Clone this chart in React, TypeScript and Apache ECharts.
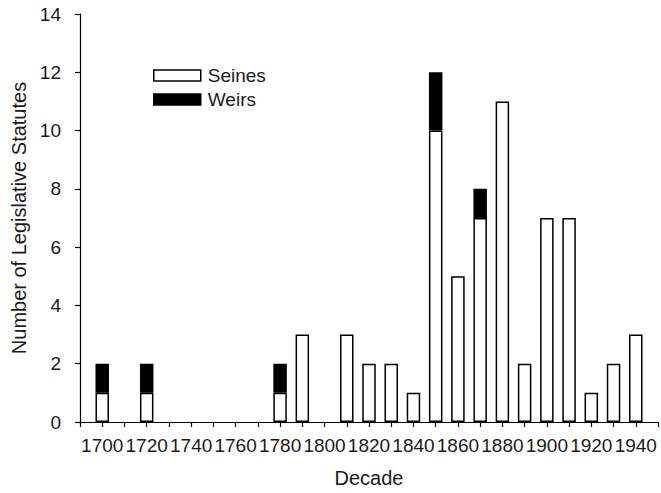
import React, { useEffect, useRef } from "react";
import * as echarts from "echarts";

// Decade axis (ticks every decade; 1690 and 1950 are the unlabeled ends)
const axisDecades = [1690, 1700, 1710, 1720, 1730, 1740, 1750, 1760, 1770, 1780, 1790, 1800, 1810, 1820, 1830, 1840, 1850, 1860, 1870, 1880, 1890, 1900, 1910, 1920, 1930, 1940, 1950];
const decades = [1700, 1710, 1720, 1730, 1740, 1750, 1760, 1770, 1780, 1790, 1800, 1810, 1820, 1830, 1840, 1850, 1860, 1870, 1880, 1890, 1900, 1910, 1920, 1930, 1940];
const seines = [1, 0, 1, 0, 0, 0, 0, 0, 1, 3, 0, 3, 2, 2, 1, 10, 5, 7, 11, 2, 7, 7, 1, 2, 3];
const weirs = [1, 0, 1, 0, 0, 0, 0, 0, 1, 0, 0, 0, 0, 0, 0, 2, 0, 1, 0, 0, 0, 0, 0, 0, 0];
const labeledDecades = [1700, 1720, 1740, 1760, 1780, 1800, 1820, 1840, 1860, 1880, 1900, 1920, 1940];

const yMax = 14;

const FONT = "'Liberation Sans', Arial, Helvetica, sans-serif";
const TXT = "#1a1a1a";

export default function App() {
  const ref = useRef<HTMLDivElement>(null);
  useEffect(() => {
    if (!ref.current) return;
    const chart = echarts.init(ref.current, null, { renderer: "svg" });
    const toSeries = (arr: number[]) =>
      axisDecades.map((d) => {
        const i = decades.indexOf(d);
        if (i < 0) return "-";
        return arr[i] === 0 ? "-" : arr[i];
      });
    chart.setOption({
      animation: false,
      backgroundColor: "#fff",
      textStyle: { fontFamily: FONT },
      grid: { left: 80, right: 0, top: 14, bottom: 70, containLabel: false },
      legend: {
        orient: "vertical",
        left: 153,
        top: 66,
        padding: 0,
        itemWidth: 47,
        itemHeight: 11,
        itemGap: 5,
        icon: "rect",
        textStyle: { fontFamily: FONT, fontSize: 19, color: TXT, padding: [0, 0, 0, 2] },
        data: [
          { name: "Seines", itemStyle: { color: "#fff", borderColor: "#000", borderWidth: 1.5 } },
          { name: "Weirs", itemStyle: { color: "#000", borderColor: "#000", borderWidth: 1.5 } },
        ],
      },
      xAxis: {
        type: "category",
        boundaryGap: false,
        data: axisDecades.map(String),
        name: "Decade",
        nameLocation: "middle",
        nameGap: 46,
        nameTextStyle: { fontFamily: FONT, fontSize: 20, color: TXT },
        axisLine: { show: true, lineStyle: { color: "#000", width: 1.2 } },
        axisTick: { show: true, length: 5, interval: 0, lineStyle: { color: "#000", width: 1.2 } },
        splitLine: { show: false },
        axisLabel: {
          fontFamily: FONT,
          fontSize: 19,
          color: TXT,
          margin: 14,
          interval: 0,
          formatter: (v: string) => (labeledDecades.indexOf(Number(v)) >= 0 ? v : ""),
        },
      },
      yAxis: {
        type: "value",
        min: 0,
        max: yMax,
        interval: 2,
        name: "Number of Legislative Statutes",
        nameLocation: "middle",
        nameGap: 50,
        nameTextStyle: { fontFamily: FONT, fontSize: 20, color: TXT },
        axisLine: { show: true, lineStyle: { color: "#000", width: 1.2 } },
        axisTick: { show: true, length: 5, lineStyle: { color: "#000", width: 1.2 } },
        splitLine: { show: false },
        axisLabel: { fontFamily: FONT, fontSize: 19, color: TXT, margin: 19 },
      },
      series: [
        {
          name: "Seines",
          type: "bar",
          stack: "total",
          barWidth: 13.5,
          itemStyle: { color: "#fff", borderColor: "#000", borderWidth: 1.5 },
          data: toSeries(seines),
        },
        {
          name: "Weirs",
          type: "bar",
          stack: "total",
          barWidth: 13.5,
          itemStyle: { color: "#000", borderColor: "#000", borderWidth: 1.5 },
          data: toSeries(weirs),
        },
      ],
    });
    return () => chart.dispose();
  }, []);
  return (
    <div
      ref={ref}
      style={{ position: "fixed", left: 0, top: 0, width: 661, height: 493, background: "#fff" }}
    />
  );
}
